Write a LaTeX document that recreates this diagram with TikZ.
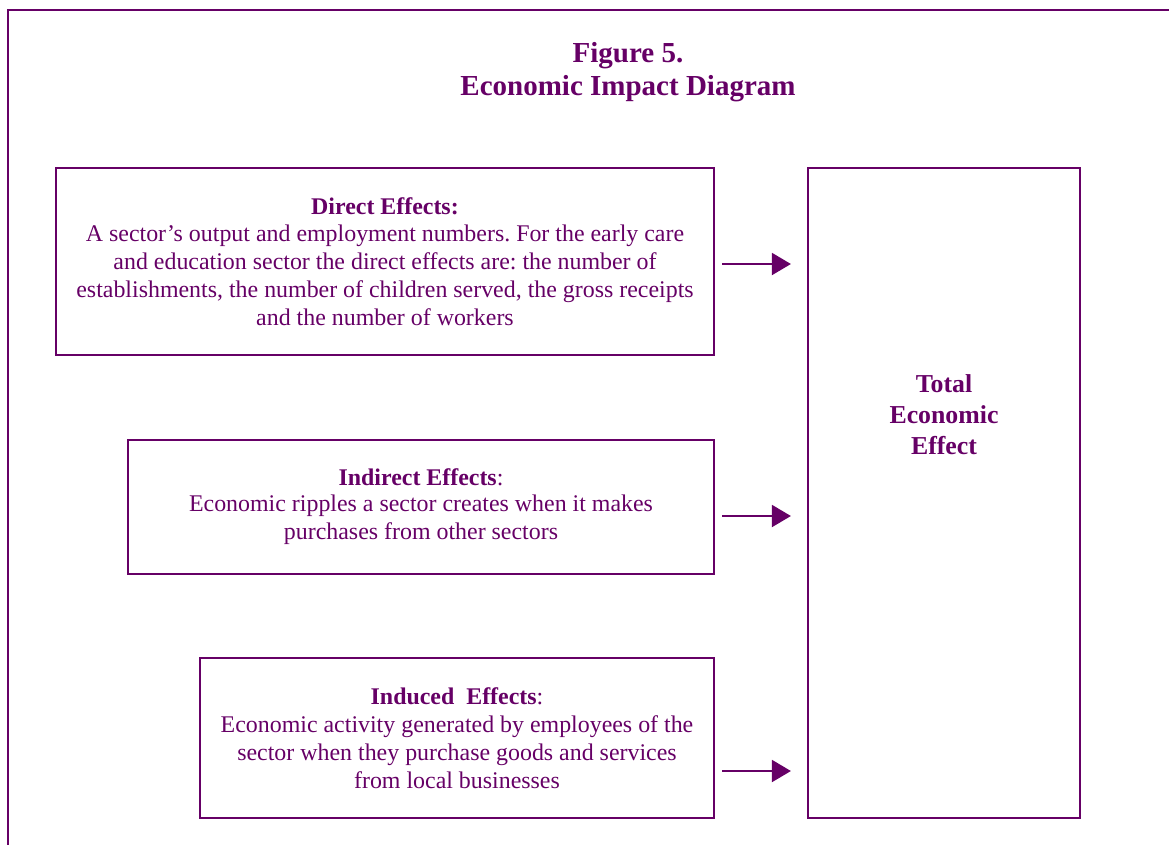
\documentclass[tikz,border=0pt]{standalone}
\usepackage{fontspec}
\setmainfont{Liberation Serif}
\usetikzlibrary{arrows.meta}
\definecolor{plum}{HTML}{660066}
\frenchspacing
\begin{document}
\begin{tikzpicture}[x=1pt,y=-1pt,
  every node/.style={text=plum},
  effbox/.style={draw=plum, line width=2.2pt, inner sep=0pt, align=center,
    font=\fontsize{23.9}{28}\selectfont},
  arr/.style={draw=plum, line width=2pt, -{Triangle[length=19pt,width=22pt]},
    shorten <=7pt, shorten >=16pt},
  titletext/.style={align=center, font=\bfseries\fontsize{29}{33}\selectfont},
  totaltext/.style={align=center, font=\bfseries\fontsize{25.8}{31}\selectfont}]
\useasboundingbox (0,0) rectangle (1169,844);
\draw[plum, line width=2.2pt] (8,850) -- (8,10) -- (1175,10);
\node[titletext] (title) at (628,72) {Figure 5.\\Economic Impact Diagram};
\node[effbox, minimum width=658pt, minimum height=187pt] (direct) at (385,261.5)
  {\textbf{Direct Effects:}\\[-1pt]A sector’s output and employment numbers. For the early care\\and education sector the direct effects are: the number of\\establishments, the number of children served, the gross receipts\\and the number of workers};
\node[effbox, minimum width=586pt, minimum height=134pt] (indirect) at (421,507)
  {\textbf{Indirect Effects}:\\[-2pt]Economic ripples a sector creates when it makes\\purchases from other sectors};
\node[effbox, minimum width=514pt, minimum height=160pt] (induced) at (457,738)
  {\textbf{Induced\ \ Effects}:\\Economic activity generated by employees of the\\sector when they purchase goods and services\\from local businesses};
\node[draw=plum, line width=2.2pt, minimum width=272pt, minimum height=650pt, inner sep=0pt] (total) at (944,493) {};
\node[totaltext] (totallabel) at (944,415) {Total\\Economic\\Effect};
\coordinate (a1) at (721,264);
\coordinate (a2) at (721,516);
\coordinate (a3) at (721,771);
\draw[arr] (direct.east |- a1) -- (total.west |- a1);
\draw[arr] (indirect.east |- a2) -- (total.west |- a2);
\draw[arr] (induced.east |- a3) -- (total.west |- a3);
\end{tikzpicture}
\end{document}
